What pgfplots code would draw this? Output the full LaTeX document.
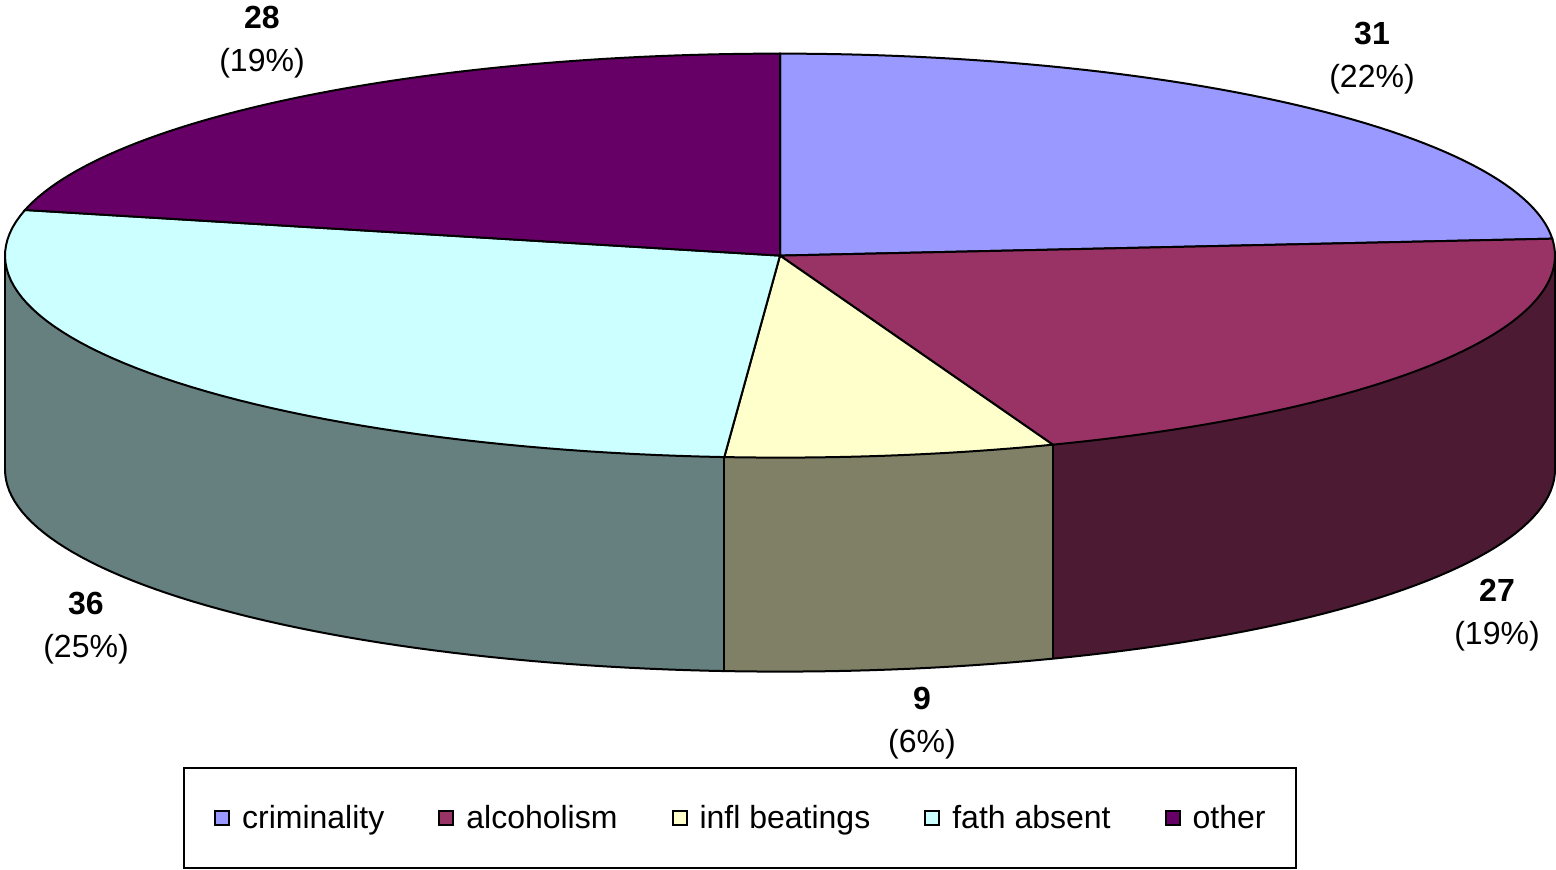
\documentclass[border=0pt]{standalone}
\usepackage{fontspec}
\setmainfont{Liberation Sans}
\usepackage{pgfplots}
\pgfplotsset{compat=1.18}
\usepgfplotslibrary{fillbetween}
\definecolor{cCrim}{HTML}{9999FF}
\definecolor{cAlc}{HTML}{993366}
\definecolor{sAlc}{HTML}{4D1A33}
\definecolor{cInfl}{HTML}{FFFFCC}
\definecolor{sInfl}{HTML}{808066}
\definecolor{cFath}{HTML}{CCFFFF}
\definecolor{sFath}{HTML}{668080}
\definecolor{cOther}{HTML}{660066}
\newcommand{\lbl}{\fontsize{16bp}{21.5bp}\selectfont}
\begin{document}
\begin{tikzpicture}
% data values
\def\vA{31}\def\vB{27}\def\vC{9}\def\vD{36}\def\vE{28}
% geometry (axis units = pixels)
\def\cx{780}\def\cy{614}\def\rx{775}\def\ry{202}\def\dd{214}
\pgfmathsetmacro{\tot}{\vA+\vB+\vC+\vD+\vE}
\pgfmathsetmacro{\aA}{90}
\pgfmathsetmacro{\aB}{\aA-360*\vA/\tot}
\pgfmathsetmacro{\aC}{\aB-360*\vB/\tot}
\pgfmathsetmacro{\aD}{\aC-360*\vC/\tot}
\pgfmathsetmacro{\aE}{\aD-360*\vD/\tot}
\pgfmathsetmacro{\aF}{\aE-360*\vE/\tot}
\begin{axis}[
  width=778bp, height=433bp, scale only axis,
  xmin=0, xmax=1556, ymin=0, ymax=866,
  axis line style={draw=none}, ticks=none,
  clip=false,
  legend image code/.code={\draw[#1, line width=1bp] (0bp,-3.5bp) rectangle (7bp,3.5bp);},
  legend columns=5,
  legend style={at={(rel axis cs:0.4755,0.0595)}, anchor=center,
    draw=black, line width=1bp, inner xsep=15bp, inner ysep=18.5bp,
    font=\fontsize{16bp}{19bp}\selectfont,
    nodes={inner sep=0pt},
    /tikz/every odd column/.append style={column sep=6bp},
    /tikz/every even column/.append style={column sep=27bp}},
]
% ---- side walls (front part) ----
\addplot[draw=none, name path=tAlc, domain=\aC:0, samples=60, forget plot] ({\cx+\rx*cos(x)},{\cy+\ry*sin(x)});
\addplot[draw=none, name path=bAlc, domain=\aC:0, samples=60, forget plot] ({\cx+\rx*cos(x)},{\cy+\ry*sin(x)-\dd});
\addplot[fill=sAlc, draw=none, forget plot] fill between[of=tAlc and bAlc];
\addplot[draw=none, name path=tInfl, domain=\aD:\aC, samples=30, forget plot] ({\cx+\rx*cos(x)},{\cy+\ry*sin(x)});
\addplot[draw=none, name path=bInfl, domain=\aD:\aC, samples=30, forget plot] ({\cx+\rx*cos(x)},{\cy+\ry*sin(x)-\dd});
\addplot[fill=sInfl, draw=none, forget plot] fill between[of=tInfl and bInfl];
\addplot[draw=none, name path=tFath, domain=-180:\aD, samples=60, forget plot] ({\cx+\rx*cos(x)},{\cy+\ry*sin(x)});
\addplot[draw=none, name path=bFath, domain=-180:\aD, samples=60, forget plot] ({\cx+\rx*cos(x)},{\cy+\ry*sin(x)-\dd});
\addplot[fill=sFath, draw=none, forget plot] fill between[of=tFath and bFath];
% outlines of the walls
\addplot[black, line width=1bp, domain=-180:0, samples=120, forget plot] ({\cx+\rx*cos(x)},{\cy+\ry*sin(x)-\dd});
\addplot[black, line width=1bp, domain=0:1, samples=2, forget plot] ({\cx+\rx*cos(-180)},{\cy+\ry*sin(-180)-\dd*x});
\addplot[black, line width=1bp, domain=0:1, samples=2, forget plot] ({\cx+\rx*cos(\aD)},{\cy+\ry*sin(\aD)-\dd*x});
\addplot[black, line width=1bp, domain=0:1, samples=2, forget plot] ({\cx+\rx*cos(\aC)},{\cy+\ry*sin(\aC)-\dd*x});
\addplot[black, line width=1bp, domain=0:1, samples=2, forget plot] ({\cx+\rx*cos(0)},{\cy+\ry*sin(0)-\dd*x});
% ---- top slices ----
\addplot[fill=cCrim, draw=black, line width=1bp, domain=\aB:\aA, samples=60, forget plot] ({\cx+\rx*cos(x)},{\cy+\ry*sin(x)}) -- (axis cs:\cx,\cy) -- cycle;
\addplot[fill=cAlc, draw=black, line width=1bp, domain=\aC:\aB, samples=60, forget plot] ({\cx+\rx*cos(x)},{\cy+\ry*sin(x)}) -- (axis cs:\cx,\cy) -- cycle;
\addplot[fill=cInfl, draw=black, line width=1bp, domain=\aD:\aC, samples=30, forget plot] ({\cx+\rx*cos(x)},{\cy+\ry*sin(x)}) -- (axis cs:\cx,\cy) -- cycle;
\addplot[fill=cFath, draw=black, line width=1bp, domain=\aE:\aD, samples=60, forget plot] ({\cx+\rx*cos(x)},{\cy+\ry*sin(x)}) -- (axis cs:\cx,\cy) -- cycle;
\addplot[fill=cOther, draw=black, line width=1bp, domain=\aF:\aE, samples=60, forget plot] ({\cx+\rx*cos(x)},{\cy+\ry*sin(x)}) -- (axis cs:\cx,\cy) -- cycle;
% ---- labels ----
\node[font=\lbl, align=center] at (axis cs:1372,811) {\textbf{31}\\(22\%)};
\node[font=\lbl, align=center] at (axis cs:1497,254) {\textbf{27}\\(19\%)};
\node[font=\lbl, align=center] at (axis cs:922,146) {\textbf{9}\\(6\%)};
\node[font=\lbl, align=center] at (axis cs:86,241) {\textbf{36}\\(25\%)};
\node[font=\lbl, align=center] at (axis cs:262,827) {\textbf{28}\\(19\%)};
% ---- legend ----
\addlegendimage{fill=cCrim, draw=black}\addlegendentry{criminality}
\addlegendimage{fill=cAlc, draw=black}\addlegendentry{alcoholism}
\addlegendimage{fill=cInfl, draw=black}\addlegendentry{infl beatings}
\addlegendimage{fill=cFath, draw=black}\addlegendentry{fath absent}
\addlegendimage{fill=cOther, draw=black}\addlegendentry{other}
\end{axis}
\end{tikzpicture}
\end{document}
